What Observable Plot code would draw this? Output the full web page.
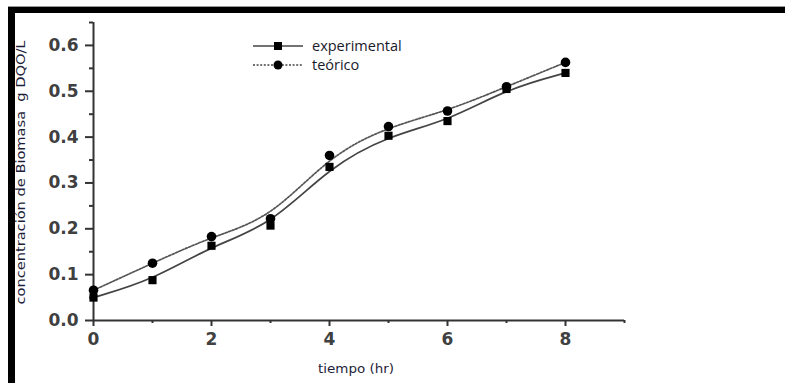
<!DOCTYPE html>
<html>
<head>
<meta charset="utf-8">
<script src="https://cdn.jsdelivr.net/npm/d3@7"></script>
<script src="https://cdn.jsdelivr.net/npm/@observablehq/plot@0.6"></script>
<style>
  html, body { margin: 0; padding: 0; background: #fff; }
  #wrap { position: relative; width: 785px; height: 383px; overflow: hidden; background: #fff; }
  #frameTop { position: absolute; left: 8px; top: 6px; width: 777px; height: 1px; background: #999; }
  #frameTop2 { position: absolute; left: 8px; top: 7px; width: 777px; height: 6px; background: #000; }
  #frameLeft { position: absolute; left: 8px; top: 7px; width: 7px; height: 376px; background: #000; }
  #chart { position: absolute; left: 0; top: 0; }
  #legend { position: absolute; left: 252px; top: 36px; font-family: "Open Sans", "Lato", sans-serif; font-size: 14.5px; color: #1a1a2a; }
  #legend .row { display: flex; align-items: center; height: 19px; }
  #legend svg { margin-right: 8px; }
</style>
</head>
<body>
<div id="wrap">
  <div id="chart"></div>
  <div id="frameTop"></div>
  <div id="frameTop2"></div>
  <div id="frameLeft"></div>
  <div id="legend"></div>
</div>
<script>
// ---- data ----
const tiempo = [0, 1, 2, 3, 4, 5, 6, 7, 8];
const experimental = [0.050, 0.088, 0.163, 0.207, 0.335, 0.403, 0.435, 0.505, 0.540];
const teorico = [0.066, 0.125, 0.183, 0.222, 0.360, 0.423, 0.457, 0.510, 0.563];
const seriesNames = ["experimental", "teórico"];
const xTicks = [0, 2, 4, 6, 8];
const xMinor = [1, 3, 5, 7, 9];
const yTicks = [0.0, 0.1, 0.2, 0.3, 0.4, 0.5, 0.6];
const yMinor = [0.05, 0.15, 0.25, 0.35, 0.45, 0.55, 0.65];
const xLabel = "tiempo (hr)";
const yLabel = "concentración de Biomasa  g DQO/L";

const expData = tiempo.map((t, i) => ({t, v: experimental[i]}));
const teoData = tiempo.map((t, i) => ({t, v: teorico[i]}));

const axisColor = "#333";
const tickFont = "DejaVu Sans, sans-serif";
const titleFont = "DejaVu Sans, sans-serif";

const chart = Plot.plot({
  width: 785,
  height: 383,
  marginLeft: 93,
  marginRight: 161,
  marginTop: 22,
  marginBottom: 63,
  style: { fontFamily: tickFont, background: "transparent", overflow: "visible" },
  x: { domain: [0, 9] },
  y: { domain: [0, 0.65] },
  marks: [
    Plot.ruleX([0], { y1: 0, y2: 0.65, stroke: axisColor, strokeWidth: 2 }),
    Plot.ruleY([0], { x1: 0, x2: 9, stroke: axisColor, strokeWidth: 2 }),
    Plot.axisY({ ticks: yTicks, tickSize: 8, tickPadding: 7, tickFormat: d3.format(".1f"), fontSize: 17, fontWeight: "bold", fill: "#404040", stroke: axisColor, strokeWidth: 2, label: null }),
    Plot.axisY({ ticks: yMinor, tickSize: 4, tickFormat: () => "", stroke: axisColor, strokeWidth: 2, label: null }),
    Plot.axisX({ ticks: xTicks, tickSize: 6, tickPadding: 6, tickFormat: d3.format("d"), fontSize: 17, fontWeight: "bold", fill: "#404040", stroke: axisColor, strokeWidth: 2, label: null }),
    Plot.axisX({ ticks: xMinor, tickSize: 3, tickFormat: () => "", stroke: axisColor, strokeWidth: 2, label: null }),
    Plot.text([yLabel], { frameAnchor: "left", dx: -73, dy: 133, rotate: -90, textAnchor: "start", fontSize: 13, fontFamily: titleFont, fill: "#1e1e3a", text: d => d, className: "ylabel" }),
    Plot.text([xLabel], { frameAnchor: "bottom", dy: 52, dx: -41, textAnchor: "start", fontSize: 13, fontFamily: titleFont, fill: "#1e1e3a", text: d => d, className: "xlabel" }),
    Plot.line(teoData, { x: "t", y: "v", curve: "basis", stroke: "#555", strokeWidth: 1.7, strokeDasharray: "2,1.6" }),
    Plot.line(expData, { x: "t", y: "v", curve: "basis", stroke: "#444", strokeWidth: 1.7 }),
    Plot.dot(teoData, { x: "t", y: "v", r: 4.8, fill: "#000", stroke: "none" }),
    Plot.dot(expData, { x: "t", y: "v", symbol: "square", r: 4.6, fill: "#000", stroke: "none" })
  ]
});
document.getElementById("chart").appendChild(chart);

// condense axis titles to the reference's width
d3.select(chart).selectAll(".ylabel text").attr("textLength", 264).attr("lengthAdjust", "spacingAndGlyphs");
d3.select(chart).selectAll(".xlabel text").attr("textLength", 76).attr("lengthAdjust", "spacingAndGlyphs");

// legend
const legend = d3.select("#legend");
seriesNames.forEach((name, i) => {
  const row = legend.append("div").attr("class", "row");
  const svg = row.append("svg").attr("width", 52).attr("height", 14);
  svg.append("line").attr("x1", 1).attr("x2", 51).attr("y1", 7).attr("y2", 7)
    .attr("stroke", "#444").attr("stroke-width", 1.6)
    .attr("stroke-dasharray", i === 0 ? null : "2,1.6");
  if (i === 0) {
    svg.append("rect").attr("x", 22).attr("y", 3).attr("width", 8).attr("height", 8).attr("fill", "#000");
  } else {
    svg.append("circle").attr("cx", 26).attr("cy", 7).attr("r", 4.5).attr("fill", "#000");
  }
  row.append("span").text(name);
});
</script>
</body>
</html>
